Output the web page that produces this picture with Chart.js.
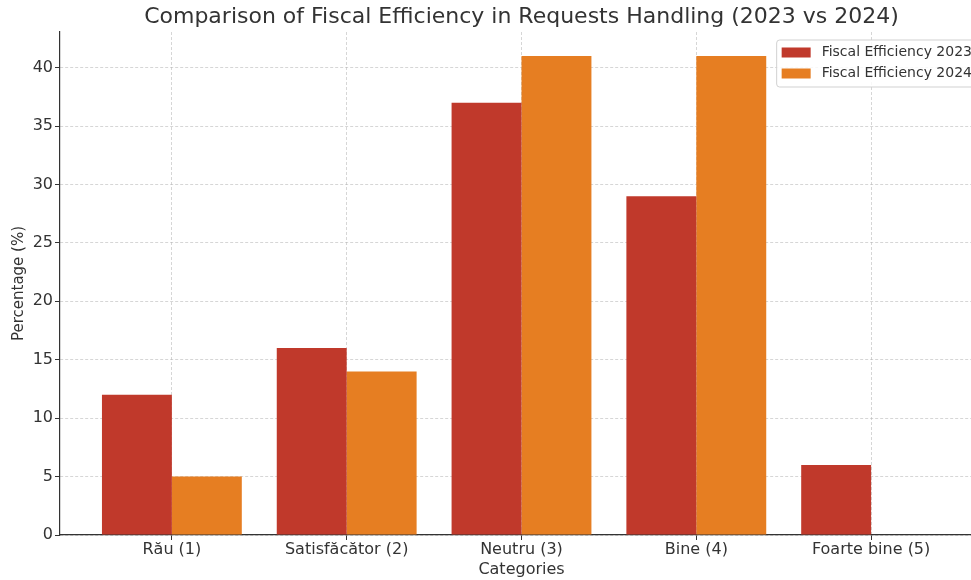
<!DOCTYPE html>
<html>
<head>
<meta charset="utf-8">
<script src="https://cdn.jsdelivr.net/npm/chart.js@4.4.1/dist/chart.umd.min.js"></script>
<style>
  html, body { margin: 0; padding: 0; background: #fff; overflow: hidden; }
  #wrap { width: 1000px; height: 580px; }
</style>
</head>
<body>
<div id="wrap"><canvas id="chart" width="1000" height="580"></canvas></div>
<script>
// Survey categories and the share of answers for each year
const categories = ["Rău (1)", "Satisfăcător (2)", "Neutru (3)", "Bine (4)", "Foarte bine (5)"];
const values2023 = [12, 16, 37, 29, 6];
const values2024 = [5, 14, 41, 41, 0];
const seriesLabels = ["Fiscal Efficiency 2023", "Fiscal Efficiency 2024"];
const yTicks = [0, 5, 10, 15, 20, 25, 30, 35, 40];

const COLOR_2023 = "#c0392b";
const COLOR_2024 = "#e67e22";
const TEXT = "#333333";
const FONT = "'DejaVu Sans', sans-serif";

const gridStyle = {
  color: "rgba(176,176,176,0.65)",
  lineWidth: 0.8,
  drawTicks: true,
  tickLength: 5,
  tickColor: TEXT,
  tickWidth: 1,
  tickBorderDash: []
};
const borderStyle = { display: true, color: TEXT, width: 1.2, dash: [3, 2] };

// Boxed legend in the upper right corner of the plot area
const boxLegend = {
  id: "boxLegend",
  afterDraw(chart) {
    const ctx = chart.ctx;
    const area = chart.chartArea;
    const items = chart.data.datasets.map(d => ({ label: d.label, color: d.backgroundColor }));
    ctx.save();
    ctx.font = "14px " + FONT;
    const textW = Math.max(...items.map(i => ctx.measureText(i.label).width));
    const boxW = 5 + 29 + 11 + textW + 7;
    const boxH = 47;
    const x = area.right - 4 - boxW;
    const y = area.top + 8;
    ctx.beginPath();
    ctx.roundRect(x, y, boxW, boxH, 3);
    ctx.fillStyle = "rgba(255,255,255,0.85)";
    ctx.fill();
    ctx.strokeStyle = "rgba(204,204,204,0.9)";
    ctx.lineWidth = 1;
    ctx.stroke();
    items.forEach((it, k) => {
      const cy = y + 12.5 + k * 21;
      ctx.fillStyle = it.color;
      ctx.fillRect(x + 5, cy - 5, 29, 10);
      ctx.fillStyle = TEXT;
      ctx.textBaseline = "middle";
      ctx.textAlign = "left";
      ctx.fillText(it.label, x + 45, cy);
    });
    ctx.restore();
  }
};

new Chart(document.getElementById("chart"), {
  type: "bar",
  data: {
    datasets: [
      {
        label: seriesLabels[0],
        data: values2023.map((v, i) => ({ x: i, y: v })),
        backgroundColor: COLOR_2023,
        borderWidth: 0
      },
      {
        label: seriesLabels[1],
        data: values2024.map((v, i) => ({ x: i, y: v })),
        backgroundColor: COLOR_2024,
        borderWidth: 0
      }
    ]
  },
  options: {
    responsive: false,
    animation: false,
    devicePixelRatio: 1,
    barPercentage: 1.0,
    categoryPercentage: 0.8,
    layout: { padding: { left: 0, right: 17, top: 0, bottom: 0 } },
    plugins: {
      legend: { display: false },
      tooltip: { enabled: false },
      title: {
        display: true,
        fullSize: false,
        text: "Comparison of Fiscal Efficiency in Requests Handling (2023 vs 2024)",
        color: TEXT,
        font: { family: FONT, size: 22, weight: "normal", lineHeight: 1.15 },
        padding: { top: 5, bottom: 1.7 }
      }
    },
    scales: {
      x: {
        type: "linear",
        min: -0.64,
        max: 4.64,
        offset: false,
        z: 1,
        afterBuildTicks: s => { s.ticks = categories.map((c, i) => ({ value: i })); },
        afterFit: s => { s.height = 45; },
        grid: Object.assign({}, gridStyle, { offset: false }),
        border: borderStyle,
        ticks: {
          color: TEXT,
          font: { family: FONT, size: 16, lineHeight: 1.1 },
          padding: 1,
          maxRotation: 0,
          autoSkip: false,
          callback: v => categories[v]
        },
        title: {
          display: true,
          text: "Categories",
          color: TEXT,
          font: { family: FONT, size: 16, lineHeight: 1.1 },
          padding: { top: 0, bottom: 1 }
        }
      },
      y: {
        min: 0,
        max: 43.05,
        z: 1,
        afterBuildTicks: s => { s.ticks = yTicks.map(v => ({ value: v })); },
        afterFit: s => { s.width = 60; },
        grid: gridStyle,
        border: borderStyle,
        ticks: {
          color: TEXT,
          font: { family: FONT, size: 16 },
          padding: 2
        },
        title: {
          display: true,
          text: "Percentage (%)",
          color: TEXT,
          font: { family: FONT, size: 15, lineHeight: 1.1 },
          padding: { top: 11, bottom: 0 }
        }
      }
    }
  },
  plugins: [boxLegend]
});
</script>
</body>
</html>
